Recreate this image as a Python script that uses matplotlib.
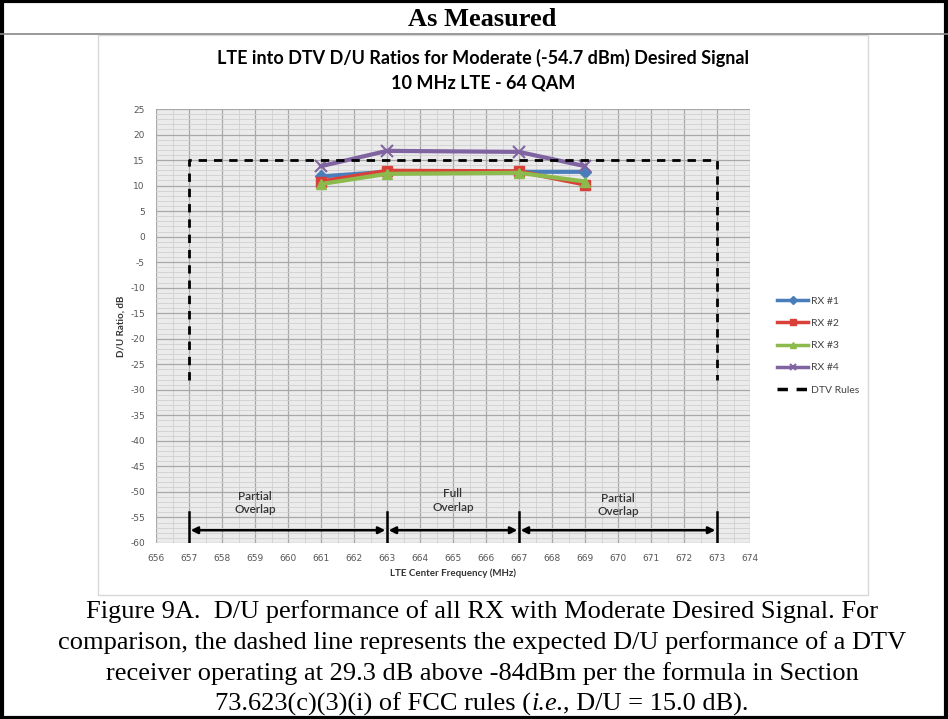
import matplotlib
matplotlib.use("Agg")
import matplotlib.pyplot as plt
from matplotlib.lines import Line2D
from matplotlib.patches import Rectangle

plt.rcParams['axes.unicode_minus'] = False

freq = [661, 663, 667, 669]
rx1 = [11.8, 12.7, 12.7, 12.7]
rx2 = [10.8, 12.9, 12.8, 10.2]
rx3 = [10.3, 12.3, 12.5, 10.8]
rx4 = [13.8, 16.8, 16.6, 13.8]
dtv_x = [657, 657, 673, 673]
dtv_y = [-28, 15, 15, -28]
series_names = ["RX #1", "RX #2", "RX #3", "RX #4", "DTV Rules"]
region_bounds = [657, 663, 667, 673]
region_labels = ["Partial\nOverlap", "Full\nOverlap", "Partial\nOverlap"]
region_label_x = [659.0, 665.0, 670.0]
region_label_y = [-52.2, -51.7, -52.5]

fig = plt.figure(figsize=(9.48, 7.19), dpi=100)
W, H = 948, 719

def fx(px):
    return px / W

def fy(py):
    return 1 - py / H

# outer border and separator
fig.patches.append(Rectangle((0.002, 0.002), 0.996, 0.996, transform=fig.transFigure,
                             fill=False, edgecolor='black', linewidth=3))
fig.add_artist(Line2D([0, 1], [fy(34), fy(34)], transform=fig.transFigure, color='#888888', linewidth=1.2))
fig.patches.append(Rectangle((fx(98), fy(595)), fx(770), (595 - 35) / H, transform=fig.transFigure,
                             fill=False, edgecolor='#d8d8d8', linewidth=1))

fig.text(fx(482), fy(20), "As Measured", ha='center', va='center', fontsize=19,
         fontweight='bold', family='Liberation Serif')
fig.text(fx(483), fy(58), "LTE into DTV D/U Ratios for Moderate (-54.7 dBm) Desired Signal",
         ha='center', va='center', fontsize=13, fontweight='bold', family='Lato')
fig.text(fx(483), fy(83), "10 MHz LTE - 64 QAM",
         ha='center', va='center', fontsize=13, fontweight='bold', family='Lato')

ax = fig.add_axes([fx(156), fy(543), fx(750 - 156), (543 - 109) / H])
ax.set_facecolor('#ebebeb')
ax.set_xlim(656, 674)
ax.set_ylim(-60, 25)
ax.set_xticks(range(656, 675))
ax.set_yticks(range(-60, 26, 5))
ax.set_xticks([x + 0.5 for x in range(656, 674)], minor=True)
ax.set_yticks(range(-60, 26, 1), minor=True)
ax.grid(which='major', color='#a8a8a8', linewidth=0.9)
ax.grid(which='minor', color='#d0d0d0', linewidth=0.6)
ax.set_axisbelow(True)
for s in ax.spines.values():
    s.set_visible(False)
ax.tick_params(which='both', length=0, labelsize=6.5, colors='#555555', pad=8)

ax.plot(freq, rx1, color='#4a7ebb', marker='D', markersize=6, linewidth=3, label=series_names[0])
ax.plot(freq, rx2, color='#d9403a', marker='s', markersize=7, linewidth=3, label=series_names[1])
ax.plot(freq, rx3, color='#8cba4c', marker='^', markersize=7, linewidth=3, label=series_names[2])
ax.plot(freq, rx4, color='#8064a2', marker='x', markersize=8, markeredgewidth=1.5, linewidth=3, label=series_names[3])
ax.plot(dtv_x, dtv_y, color='black', linestyle=(0, (3, 2.5)), linewidth=2, label=series_names[4])

for b in region_bounds:
    ax.plot([b, b], [-60, -54], color='black', linewidth=1.8)
for a, b in zip(region_bounds[:-1], region_bounds[1:]):
    ax.annotate('', xy=(b - 0.05, -57.5), xytext=(a + 0.05, -57.5),
                arrowprops=dict(arrowstyle='<|-|>', color='black', linewidth=1.8,
                                mutation_scale=10, shrinkA=0, shrinkB=0))
for lx, ly, lt in zip(region_label_x, region_label_y, region_labels):
    ax.text(lx, ly, lt, ha='center', va='center', fontsize=8.5, family='Lato',
            fontweight='semibold', color='#333333', linespacing=1.25)

ax.set_xlabel("LTE Center Frequency (MHz)", fontsize=7, family='Lato', fontweight='bold',
              color='#333333', labelpad=4)
ax.set_ylabel("D/U Ratio, dB", fontsize=7, family='Lato', fontweight='bold',
              color='#333333', labelpad=3)

leg = ax.legend(loc='center left', bbox_to_anchor=(1.03, 0.455), frameon=False,
                handlelength=3, labelspacing=1.25, handletextpad=0.2,
                prop={'family': 'Lato', 'size': 7.5})
for t in leg.get_texts():
    t.set_color('#444444')
for line in leg.get_lines():
    line.set_markersize(4)
    line.set_linewidth(2.5)

caption = ["Figure 9A.  D/U performance of all RX with Moderate Desired Signal. For",
           "comparison, the dashed line represents the expected D/U performance of a DTV",
           "receiver operating at 29.3 dB above -84dBm per the formula in Section"]
for i, c in enumerate(caption):
    fig.text(fx(482), fy(612 + 30.7 * i), c, ha='center', va='center', fontsize=19,
             family='Liberation Serif')

# last caption line with italic "i.e." composed of three pieces
parts = [("73.623(c)(3)(i) of FCC rules (", 'normal'), ("i.e.", 'italic'), (", D/U = 15.0 dB).", 'normal')]
renderer = fig.canvas.get_renderer()
objs = []
for txt, style in parts:
    t = fig.text(0, fy(704), txt, ha='left', va='center', fontsize=19,
                 family='Liberation Serif', style=style)
    objs.append(t)
widths = [o.get_window_extent(renderer=renderer).width for o in objs]
total = sum(widths)
xpix = 482 - total / 2
for o, w in zip(objs, widths):
    o.set_x(xpix / W)
    xpix += w

fig.savefig("out.png", dpi=100)
